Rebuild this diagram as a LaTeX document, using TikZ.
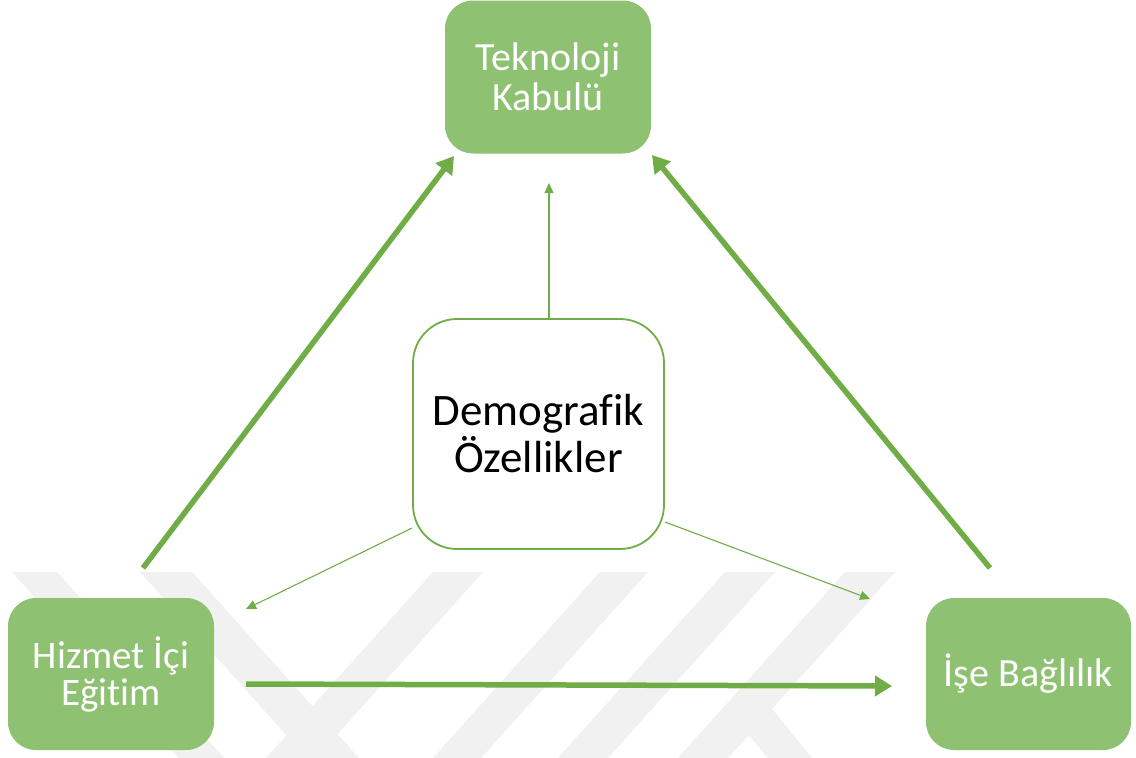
\documentclass[tikz,border=0pt]{standalone}
\usepackage{fontspec}
\setmainfont{Carlito}[Ligatures={NoCommon}]
\usetikzlibrary{arrows.meta}
\definecolor{boxgreen}{HTML}{8FC172}
\definecolor{linegreen}{HTML}{70AD47}
\definecolor{markgray}{HTML}{F1F1F1}
\tikzset{
  greenbox/.style={draw=none, fill=boxgreen, rounded corners=28pt,
    text=white, align=center, inner sep=0pt},
  centerbox/.style={draw=linegreen, line width=1.8pt, fill=white,
    rounded corners=44pt, text=black, align=center, inner sep=0pt,
    minimum width=251pt, minimum height=230pt},
  thickarrow/.style={draw=linegreen, line width=5.5pt,
    -{Triangle[length=17pt,width=20pt]}},
  thinarrow/.style={draw=linegreen, line width=1.1pt,
    -{Triangle[length=10pt,width=9pt]}},
  stripe/.style={fill=markgray, draw=none}
}
\begin{document}
\begin{tikzpicture}[x=1pt,y=-1pt]
  \useasboundingbox (0,0) rectangle (1136,758);
  \fill[white] (0,0) rectangle (1136,758);

  % faint striped mark along the bottom
  \fill[stripe] (12,572) -- (57,572) -- (224,758) -- (179,758) -- cycle;
  \fill[stripe] (140,572) -- (192,572) -- (359,758) -- (307,758) -- cycle;
  \fill[stripe] (433,572) -- (483,572) -- (316,758) -- (266,758) -- cycle;
  \fill[stripe] (600,572) -- (648,572) -- (481,758) -- (433,758) -- cycle;
  \fill[stripe] (725,572) -- (775,572) -- (608,758) -- (558,758) -- cycle;
  \fill[stripe] (845,572) -- (895,572) -- (728,758) -- (678,758) -- cycle;
  \fill[stripe] (738,722) -- (768,704) -- (812,758) -- (768,758) -- cycle;

  % boxes
  \node[greenbox, minimum width=206pt, minimum height=153pt,
        font=\fontsize{40}{40}\selectfont] (tk) at (548,77)
        {Teknoloji\\Kabulü};
  \node[centerbox, font=\fontsize{45}{47}\selectfont] (dem) at (538.5,434)
        {Demografik\\Özellikler};
  \node[greenbox, minimum width=206pt, minimum height=152pt,
        font=\fontsize{39}{37}\selectfont] (hie) at (111,674)
        {Hizmet İçi\\Eğitim};
  \node[greenbox, minimum width=205pt, minimum height=152pt,
        font=\fontsize{40}{40}\selectfont] (ib) at (1028.5,674)
        {İşe Bağlılık};

  % connector ends
  \coordinate (l0) at (143,568);
  \coordinate (l1) at (454,156);
  \coordinate (r0) at (990,568);
  \coordinate (r1) at (652,155);
  \coordinate (h0) at (246,684);
  \coordinate (h1) at (892,686);
  \coordinate (c0) at (549,318);
  \coordinate (c1) at (549,183);
  \coordinate (d0) at (412,528);
  \coordinate (d1) at (246,609);
  \coordinate (e0) at (665,522);
  \coordinate (e1) at (870,599);

  % connectors
  \draw[thickarrow] (l0) -- (l1);
  \draw[thickarrow] (r0) -- (r1);
  \draw[thickarrow] (h0) -- (h1);
  \draw[thinarrow] (c0) -- (c1);
  \draw[thinarrow] (d0) -- (d1);
  \draw[thinarrow] (e0) -- (e1);
\end{tikzpicture}
\end{document}
